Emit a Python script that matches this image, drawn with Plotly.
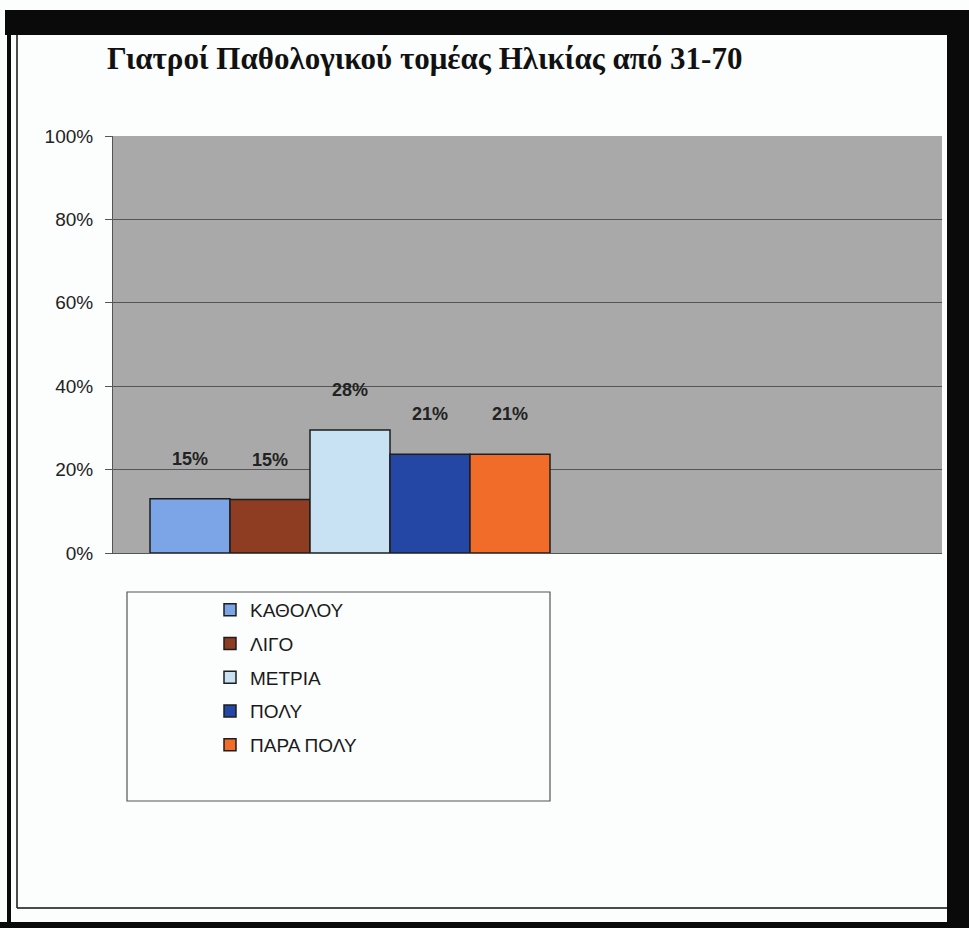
import plotly.graph_objects as go

# ---- data ----
categories = ["ΚΑΘΟΛΟΥ", "ΛΙΓΟ", "ΜΕΤΡΙΑ", "ΠΟΛΥ", "ΠΑΡΑ ΠΟΛΥ"]
bar_values = [13, 12.8, 29.5, 23.7, 23.7]          # bar heights as drawn (%)
value_labels = ["15%", "15%", "28%", "21%", "21%"]  # printed data labels
colors = ["#7ba5e6", "#8e3d22", "#c9e2f3", "#2447a6", "#f06c28"]
y_tick_vals = [0, 20, 40, 60, 80, 100]
y_tick_text = ["0%", "20%", "40%", "60%", "80%", "100%"]

W, H = 969, 928
L, R, T, B = 113, 942, 136, 553

def fx(px):
    return (px - L) / (R - L)

def fy(py):
    return (B - py) / (B - T)

fig = go.Figure()
for i, (cat, v, c) in enumerate(zip(categories, bar_values, colors)):
    fig.add_trace(go.Bar(
        x=[i], y=[v], name=cat, width=1,
        marker=dict(color=c, line=dict(color="#1e1e1e", width=1.5)),
        legendgroup=cat,
        hoverinfo="skip",
    ))
    fig.add_annotation(
        x=i, y=v, text="<b>%s</b>" % value_labels[i], showarrow=False,
        yanchor="bottom", yshift=28,
        font=dict(family="Liberation Sans, Arial", size=18, color="#222222"),
    )

def rect(x0, y0, x1, y1, fill=None, line=None, lw=0):
    fig.add_shape(type="rect", xref="paper", yref="paper",
                  x0=fx(x0), x1=fx(x1), y0=fy(y1), y1=fy(y0),
                  fillcolor=fill, line=dict(color=line, width=lw),
                  layer="above")

def seg(x0, y0, x1, y1, color="#111111", lw=1.5):
    fig.add_shape(type="line", xref="paper", yref="paper",
                  x0=fx(x0), x1=fx(x1), y0=fy(y0), y1=fy(y1),
                  line=dict(color=color, width=lw), layer="above")

# page frame
rect(5, 10, 969, 35, fill="#0a0a0a", line="#0a0a0a", lw=0)
rect(947, 10, 969, 928, fill="#0a0a0a", line="#0a0a0a", lw=0)
rect(0, 922, 969, 928, fill="#0a0a0a", line="#0a0a0a", lw=0)
rect(7, 10, 11, 922, fill="#0a0a0a", line="#0a0a0a", lw=0)
seg(17, 35, 17, 908)
seg(17, 908, 947, 908)
# legend box
rect(127, 592, 550, 801, fill="rgba(0,0,0,0)", line="#555555", lw=1.2)

x_left = -0.5 - (150 - L) / 80.0
x_right = x_left + (R - L) / 80.0

fig.update_layout(
    width=W, height=H,
    margin=dict(l=L, r=W - R, t=T, b=H - B),
    paper_bgcolor="#fcfdfd",
    plot_bgcolor="#a9a9a9",
    showlegend=True,
    barmode="overlay",
    title=dict(
        text="<b>Γιατροί Παθολογικού τομέας Ηλικίας από 31-70</b>",
        font=dict(family="Liberation Serif, Times New Roman", size=31, color="#111111"),
        x=107 / W, xanchor="left", xref="container",
        y=1 - 58 / H, yanchor="middle", yref="container",
    ),
    legend=dict(
        x=fx(210), y=fy(591), xanchor="left", yanchor="top",
        bgcolor="rgba(0,0,0,0)", borderwidth=0,
        font=dict(family="Liberation Sans, Arial", size=19, color="#1a1a1a"),
        traceorder="grouped", tracegroupgap=6, itemclick=False,
    ),
    xaxis=dict(
        range=[x_left, x_right], showticklabels=False, ticks="",
        showgrid=False, zeroline=False, showline=True,
        linecolor="#555555", linewidth=1, fixedrange=True,
    ),
    yaxis=dict(
        range=[0, 100], tickmode="array", tickvals=y_tick_vals, ticktext=y_tick_text,
        showgrid=True, gridcolor="#555555", gridwidth=1,
        zeroline=False, showline=True, linecolor="#555555", linewidth=1,
        ticks="outside", ticklen=7, tickcolor="#555555",
        ticklabelstandoff=8,
        tickfont=dict(family="Liberation Sans, Arial", size=19, color="#222222"),
        fixedrange=True,
    ),
)

fig.write_html("out.html")
